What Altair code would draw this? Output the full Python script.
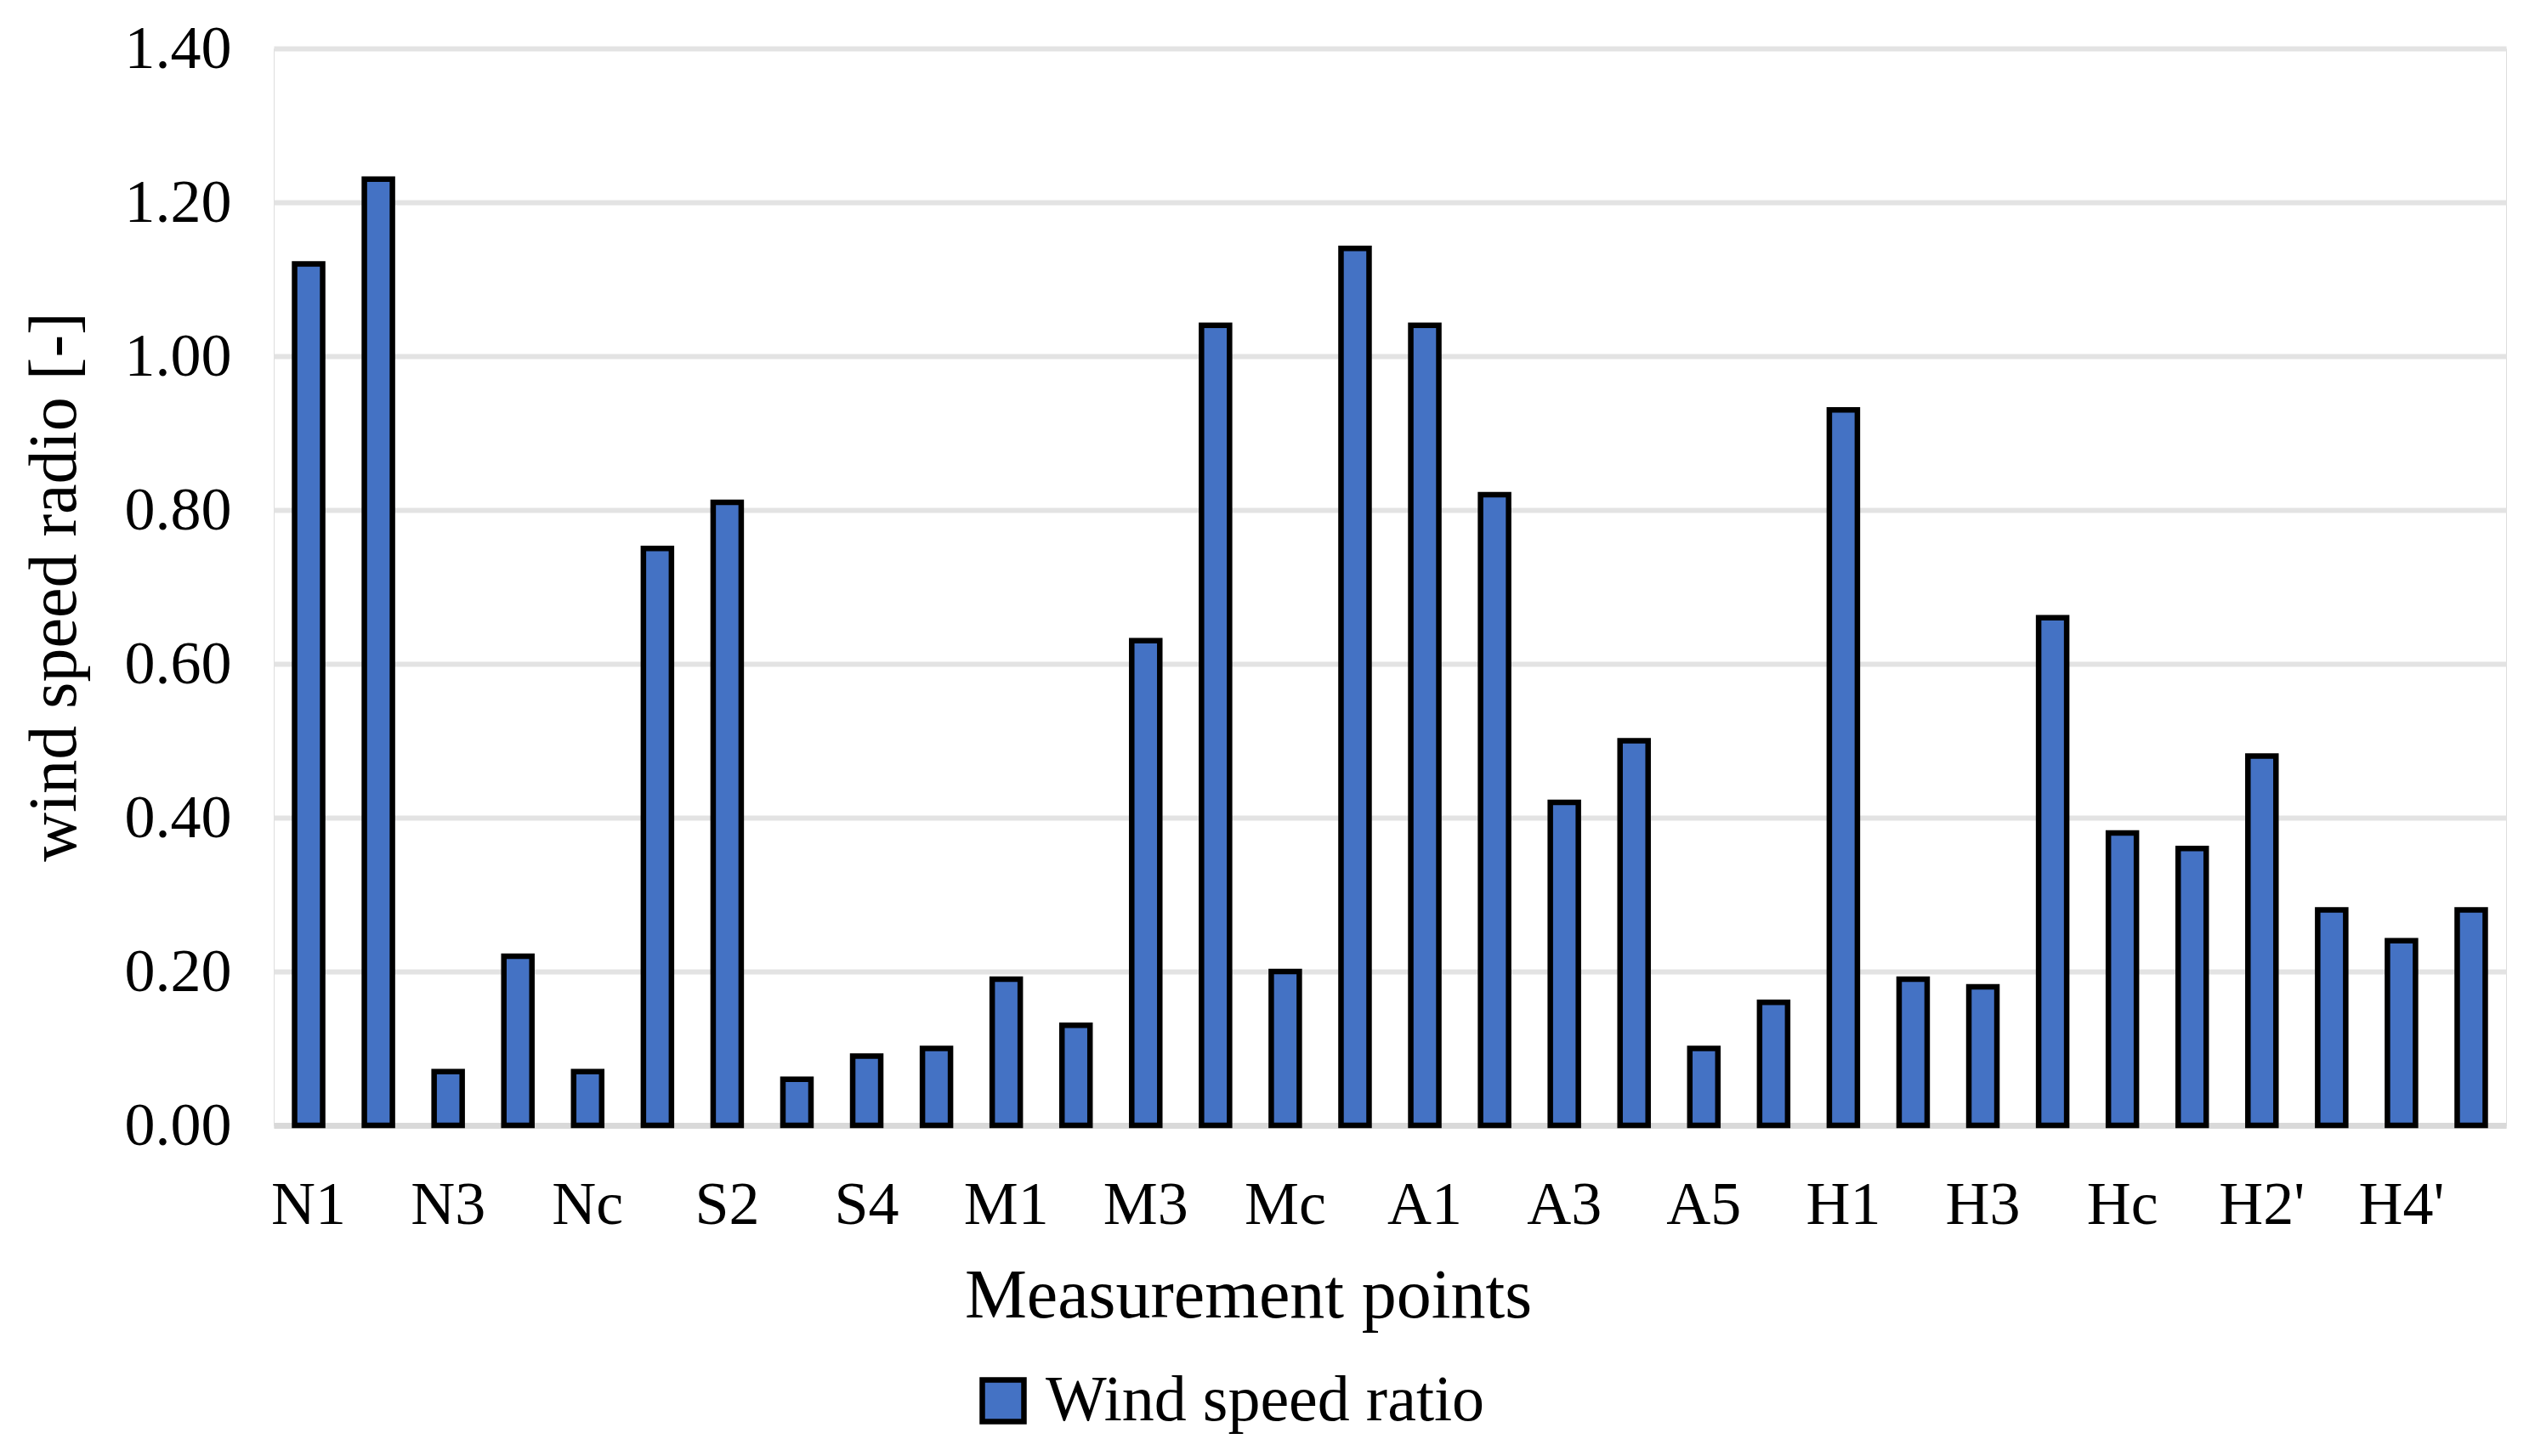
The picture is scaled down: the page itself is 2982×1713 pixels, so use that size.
import altair as alt
import pandas as pd

categories = ["N1", "N2", "N3", "N4", "Nc", "S1", "S2", "S3", "S4", "Sc",
              "M1", "M2", "M3", "M4", "Mc", "A0", "A1", "A2", "A3", "A4",
              "A5", "Ac", "H1", "H2", "H3", "H4", "Hc", "H1'", "H2'", "H3'",
              "H4'", "H5'"]
values = [1.12, 1.23, 0.07, 0.22, 0.07, 0.75, 0.81, 0.06, 0.09, 0.10,
          0.19, 0.13, 0.63, 1.04, 0.20, 1.14, 1.04, 0.82, 0.42, 0.50,
          0.10, 0.16, 0.93, 0.19, 0.18, 0.66, 0.38, 0.36, 0.48, 0.28,
          0.24, 0.28]
shown_labels = categories[::2]
y_ticks = [0.0, 0.2, 0.4, 0.6, 0.8, 1.0, 1.2, 1.4]
series_name = "Wind speed ratio"

df = pd.DataFrame({"point": categories, "ratio": values, "series": series_name})

FONT = "Liberation Serif"

chart = alt.Chart(df).mark_bar(size=33, stroke="black", strokeWidth=6.5).encode(
    x=alt.X("point:N", sort=categories,
            scale=alt.Scale(paddingInner=0, paddingOuter=0),
            axis=alt.Axis(values=shown_labels, labelAngle=0, title="Measurement points",
                          ticks=False, tickSize=0, labelPadding=58, labelFontSize=72,
                          labelFont=FONT, labelColor="black",
                          titleFont=FONT, titleFontSize=82, titleFontWeight="normal",
                          titleColor="black", titleX=1146, titleY=225,
                          titleBaseline="alphabetic", titleAlign="center",
                          domainColor="#d9d9d9", domainWidth=7, grid=False)),
    y=alt.Y("ratio:Q", scale=alt.Scale(domain=[0, 1.4], nice=False),
            axis=alt.Axis(values=y_ticks, format=".2f", title="wind speed radio [-]",
                          ticks=False, tickSize=0, labelPadding=50, labelFontSize=72,
                          labelFont=FONT, labelColor="black", domain=False,
                          grid=True, gridColor="#e3e3e3", gridWidth=6,
                          titleFont=FONT, titleFontSize=80, titleFontWeight="normal",
                          titleColor="black", titleAngle=270, titleX=-234, titleY=633,
                          titleBaseline="alphabetic", titleAlign="center")),
    color=alt.Color("series:N", scale=alt.Scale(domain=[series_name], range=["#4472c4"]),
                    legend=alt.Legend(title=None, orient="none", legendX=820, legendY=1553,
                                      symbolType="square", symbolSize=2400,
                                      symbolStrokeColor="black", symbolStrokeWidth=6.5,
                                      symbolFillColor="#4472c4",
                                      labelFont=FONT, labelFontSize=76, labelColor="black",
                                      labelOffset=12, padding=0, labelLimit=1000)),
).properties(
    width=2626, height=1267,
    autosize=alt.AutoSizeParams(type="none"),
    padding={"left": 314, "top": 49, "right": 26, "bottom": 380},
).configure_view(stroke=None).configure(background="white")

chart.save("out.html", embed_options={"renderer": "svg", "actions": False})
